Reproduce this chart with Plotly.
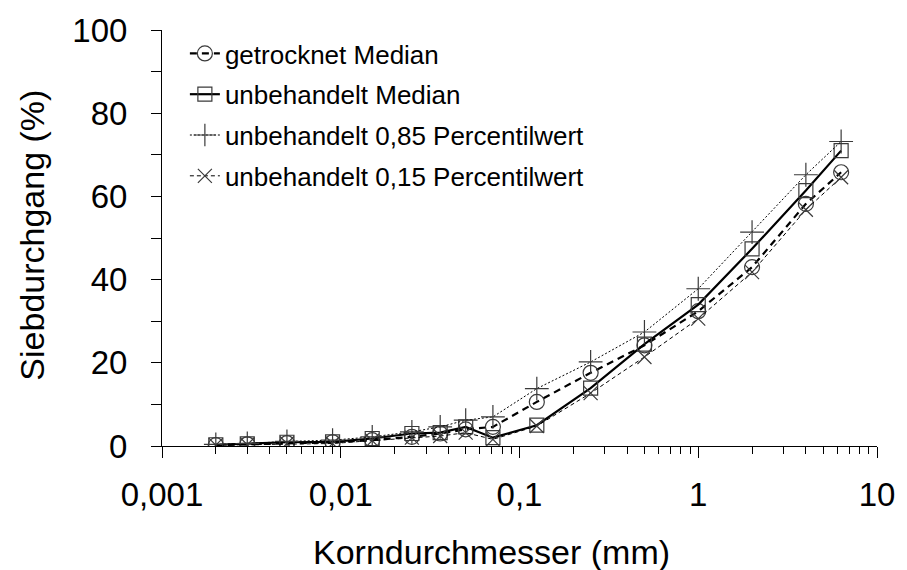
import plotly.graph_objects as go

# Sieve sizes (mm)
korn = [0.002, 0.003, 0.005, 0.009, 0.015, 0.025, 0.036, 0.05, 0.071,
        0.125, 0.25, 0.5, 1, 2, 4, 6.3]

# Passing percentages (%)
getrocknet_median = [0.2, 0.4, 0.7, 0.9, 1.4, 2.2, 3.0, 4.0, 4.6,
                     10.6, 17.6, 24.2, 32.4, 43.0, 58.2, 65.8]
unbehandelt_median = [0.3, 0.5, 0.9, 1.0, 1.8, 3.0, 3.2, 4.6, 2.0,
                      5.0, 13.9, 24.5, 34.0, 47.4, 61.4, 71.0]
unbehandelt_p85 = [0.4, 0.6, 1.1, 1.4, 2.2, 3.4, 4.6, 6.2, 7.0,
                   13.8, 20.2, 27.4, 37.8, 51.4, 65.2, 73.2]
unbehandelt_p15 = [0.2, 0.3, 0.6, 0.6, 1.3, 2.0, 2.4, 3.2, 1.6,
                   4.8, 12.7, 21.4, 30.6, 41.8, 56.8, 64.6]

x_tickvals = [0.001, 0.01, 0.1, 1, 10]
x_ticktext = ["0,001", "0,01", "0,1", "1", "10"]
y_tickvals = [0, 10, 20, 30, 40, 50, 60, 70, 80, 90, 100]
y_ticktext = ["0", "", "20", "", "40", "", "60", "", "80", "", "100"]

FONT = "Liberation Sans, Arial, sans-serif"
MARKER_COL = "#3a3a3a"

series = [
    ("getrocknet Median", getrocknet_median, "circle-open", 15,
     dict(color="black", width=2.2, dash="7px,5px")),
    ("unbehandelt Median", unbehandelt_median, "square-open", 14,
     dict(color="black", width=2.2, dash="solid")),
    ("unbehandelt 0,85 Percentilwert", unbehandelt_p85, "cross-thin-open", 17,
     dict(color="black", width=1, dash="2px,2px")),
    ("unbehandelt 0,15 Percentilwert", unbehandelt_p15, "x-thin-open", 14,
     dict(color="black", width=1, dash="4px,3px")),
]

fig = go.Figure()
for i, (name, vals, sym, size, line) in enumerate(series):
    fig.add_trace(go.Scatter(
        x=korn, y=vals, name=name, mode="lines+markers",
        line=line, legendgroup=f"g{i}",
        marker=dict(symbol=sym, size=size, color=MARKER_COL,
                    line=dict(color=MARKER_COL, width=1.2)),
    ))

fig.update_layout(
    width=907, height=570,
    margin=dict(l=162, r=25, t=29, b=124),
    paper_bgcolor="white", plot_bgcolor="white",
    font=dict(family=FONT, color="black"),
    showlegend=True,
    legend=dict(x=0.032, y=1.0, xanchor="left", yanchor="top",
                bgcolor="rgba(0,0,0,0)", font=dict(size=26),
                itemwidth=30, tracegroupgap=4),
    annotations=[
        dict(text="Siebdurchgang (%)", textangle=-90, showarrow=False,
             xref="paper", yref="paper", x=-0.183, y=0.506,
             xanchor="center", yanchor="middle", font=dict(size=34)),
        dict(text="Korndurchmesser (mm)", showarrow=False,
             xref="paper", yref="paper", x=0.4604, y=-0.254,
             xanchor="center", yanchor="middle", font=dict(size=34)),
    ],
)

fig.update_xaxes(
    type="log", range=[-3, 1],
    showgrid=False, zeroline=False,
    showline=True, linecolor="black", linewidth=1,
    tickvals=x_tickvals, ticktext=x_ticktext,
    ticks="outside", ticklen=11, tickcolor="black", tickwidth=1,
    tickfont=dict(size=33), ticklabelstandoff=8,
    minor=dict(dtick="D1", ticks="outside", ticklen=7,
               tickcolor="black", tickwidth=1, showgrid=False),
)
fig.update_yaxes(
    range=[0, 100],
    showgrid=False, zeroline=False,
    showline=True, linecolor="black", linewidth=1,
    tickvals=y_tickvals, ticktext=y_ticktext,
    ticks="outside", ticklen=10, tickcolor="black", tickwidth=1,
    tickfont=dict(size=33), ticklabelstandoff=17,
)

fig.write_html("out.html")
